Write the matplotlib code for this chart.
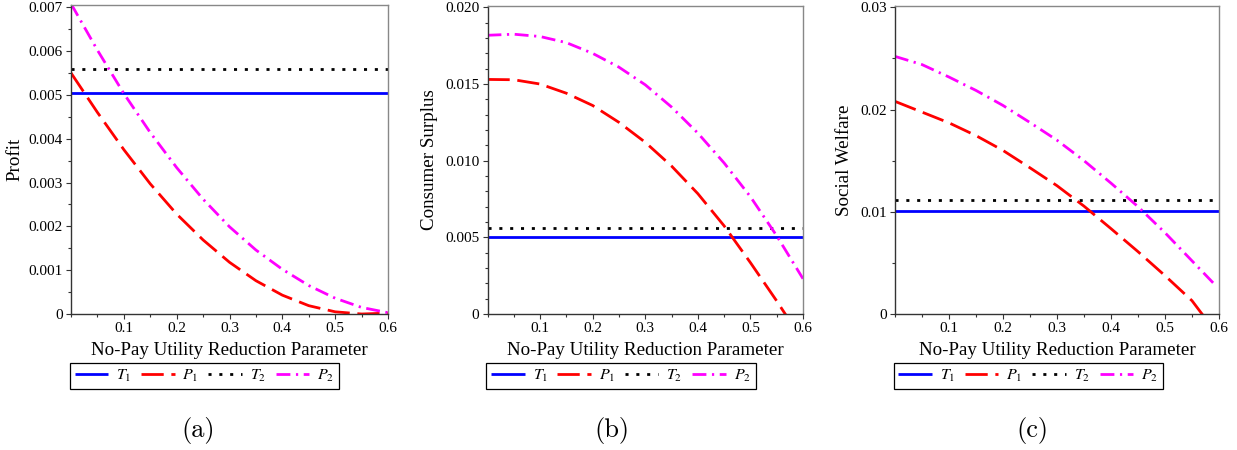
import matplotlib
matplotlib.use('Agg')
import matplotlib.pyplot as plt
from matplotlib.ticker import MultipleLocator

plt.rcParams['font.family'] = ['Liberation Serif', 'DejaVu Serif']
plt.rcParams['mathtext.fontset'] = 'stix'
plt.rcParams['lines.scale_dashes'] = False

# no-pay utility reduction parameter
x_grid = [0.0, 0.05, 0.10, 0.15, 0.20, 0.25, 0.30, 0.35, 0.40, 0.45, 0.50, 0.55, 0.60]
x_to_057 = [0.0, 0.05, 0.10, 0.15, 0.20, 0.25, 0.30, 0.35, 0.40, 0.45, 0.50, 0.55, 0.57]
x_to_059 = [0.0, 0.05, 0.10, 0.15, 0.20, 0.25, 0.30, 0.35, 0.40, 0.45, 0.50, 0.55, 0.59]

# (a) profit
profit_t1 = 0.00505
profit_t2 = 0.00560
profit_p1 = [0.00550, 0.00460, 0.00375, 0.00297, 0.00228, 0.00169, 0.00118,
             0.00076, 0.00043, 0.00019, 0.00005, 0.00000, 0.00002]
profit_p2 = [0.00708, 0.00602, 0.00503, 0.00414, 0.00334, 0.00262, 0.00199,
             0.00146, 0.00102, 0.00065, 0.00036, 0.00015, 0.00003]

# (b) consumer surplus
cs_t1 = 0.00505
cs_t2 = 0.00560
cs_p1 = [0.01530, 0.01528, 0.01500, 0.01440, 0.01360, 0.01250, 0.01120,
         0.00965, 0.00785, 0.00575, 0.00335, 0.00085, -0.00020]
cs_p2 = [0.01818, 0.01825, 0.01810, 0.01770, 0.01700, 0.01610, 0.01495,
         0.01350, 0.01180, 0.00985, 0.00765, 0.00510, 0.00230]

# (c) social welfare
sw_t1 = 0.01010
sw_t2 = 0.01120
sw_p1 = [0.02080, 0.01975, 0.01870, 0.01745, 0.01600, 0.01430, 0.01255,
         0.01055, 0.00835, 0.00610, 0.00375, 0.00130, -0.00010]
sw_p2 = [0.02520, 0.02440, 0.02318, 0.02187, 0.02040, 0.01873, 0.01700,
         0.01500, 0.01280, 0.01050, 0.00795, 0.00520, 0.00300]

xticks = [0.1, 0.2, 0.3, 0.4, 0.5, 0.6]
xticklabels = ['0.1', '0.2', '0.3', '0.4', '0.5', '0.6']


def draw_panel(ax, t1, t2, p1x, p1, p2x, p2, ylabel, ylim, yticks, yticklabels,
               yminor, label_x, tag, tag_x):
    lw = 2.0
    ax.plot([0, 0.6], [t1, t1], color='#0000ff', lw=lw, solid_capstyle='butt', label=r'$T_1$')
    ax.plot(p1x, p1, color='#ff0000', lw=lw, dashes=(16, 5.5), label=r'$P_1$')
    ax.plot([0, 0.6], [t2, t2], color='black', lw=lw, dashes=(2.2, 5.6), label=r'$T_2$')
    ax.plot(p2x, p2, color='#ff00ff', lw=lw, dashes=(10, 4, 1.6, 4), label=r'$P_2$')

    ax.set_xlim(0, 0.6)
    ax.set_ylim(0, ylim)
    ax.set_xticks(xticks)
    ax.set_xticklabels(xticklabels)
    ax.xaxis.set_minor_locator(MultipleLocator(0.05))
    ax.set_yticks(yticks)
    ax.set_yticklabels(yticklabels)
    ax.yaxis.set_minor_locator(MultipleLocator(yminor))
    ax.tick_params(which='major', length=3.5, width=0.8, pad=2.5, labelsize=11, color='#333333')
    ax.tick_params(which='minor', length=2.5, width=0.8, color='#333333')

    for side in ['left', 'bottom']:
        ax.spines[side].set_color('#333333')
    for side in ['top', 'right']:
        ax.spines[side].set_color('#888888')
    for s in ax.spines.values():
        s.set_linewidth(1.0)

    ax.set_xlabel('No-Pay Utility Reduction Parameter', fontsize=13.7, labelpad=5)
    ax.set_ylabel(ylabel, fontsize=13.7)
    ax.yaxis.set_label_coords(label_x, 0.5)

    leg = ax.legend(loc='upper left', bbox_to_anchor=(-0.004, -0.159), ncol=4,
                    fontsize=11.5, handlelength=2.1, handletextpad=0.5,
                    columnspacing=0.6, borderpad=0.3, borderaxespad=0,
                    fancybox=False, framealpha=1, edgecolor='black')
    leg.get_frame().set_linewidth(0.9)

    fig.text(tag_x, 0.044, tag, fontfamily='cmr10', fontsize=19, ha='center', va='center')


fig = plt.figure(figsize=(12.37, 4.5), dpi=100)
ax_a = fig.add_axes([71 / 1237, 136 / 450, 317 / 1237, 309 / 450])
ax_b = fig.add_axes([487.5 / 1237, 136 / 450, 315.5 / 1237, 308 / 450])
ax_c = fig.add_axes([895 / 1237, 136 / 450, 324 / 1237, 308 / 450])

draw_panel(ax_a, profit_t1, profit_t2, x_grid, profit_p1, x_grid, profit_p2,
           'Profit', 0.00705,
           [0, 0.001, 0.002, 0.003, 0.004, 0.005, 0.006, 0.007],
           ['0', '0.001', '0.002', '0.003', '0.004', '0.005', '0.006', '0.007'],
           0.0005, -0.151, '(a)', 198 / 1237)

draw_panel(ax_b, cs_t1, cs_t2, x_to_057, cs_p1, x_grid, cs_p2,
           'Consumer Surplus', 0.02009,
           [0, 0.005, 0.010, 0.015, 0.020],
           ['0', '0.005', '0.010', '0.015', '0.020'],
           0.001, -0.157, '(b)', 612 / 1237)

draw_panel(ax_c, sw_t1, sw_t2, x_to_057, sw_p1, x_to_059, sw_p2,
           'Social Welfare', 0.03013,
           [0, 0.01, 0.02, 0.03],
           ['0', '0.01', '0.02', '0.03'],
           0.005, -0.130, '(c)', 1032 / 1237)

fig.savefig('out.png', dpi=100)
